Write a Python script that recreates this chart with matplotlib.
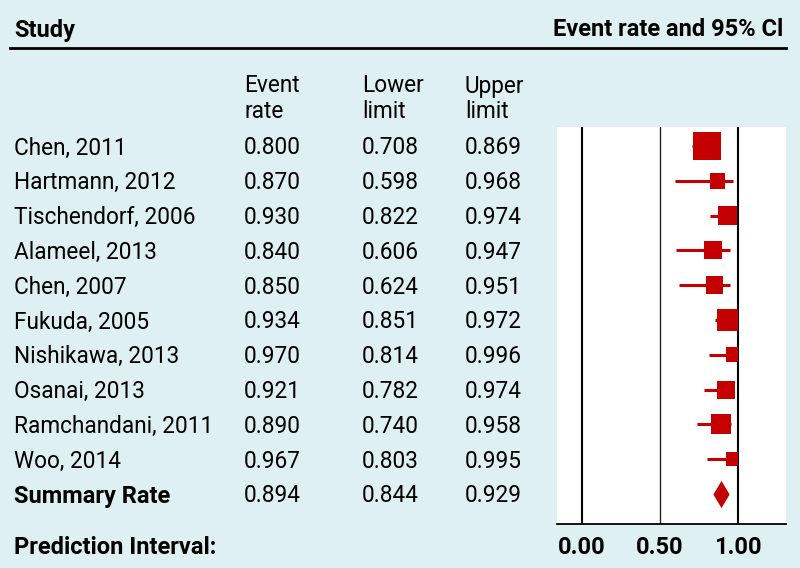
import matplotlib
matplotlib.use("Agg")
import matplotlib.pyplot as plt
from matplotlib.patches import Rectangle

plt.rcParams['font.family'] = ['Roboto', 'DejaVu Sans']

# data
studies = ["Chen, 2011", "Hartmann, 2012", "Tischendorf, 2006", "Alameel, 2013",
           "Chen, 2007", "Fukuda, 2005", "Nishikawa, 2013", "Osanai, 2013",
           "Ramchandani, 2011", "Woo, 2014"]
event_rate = [0.800, 0.870, 0.930, 0.840, 0.850, 0.934, 0.970, 0.921, 0.890, 0.967]
lower = [0.708, 0.598, 0.822, 0.606, 0.624, 0.851, 0.814, 0.782, 0.740, 0.803]
upper = [0.869, 0.968, 0.974, 0.947, 0.951, 0.972, 0.996, 0.974, 0.958, 0.995]
weights = [20.9, 6.6, 10.0, 9.0, 8.7, 13.4, 6.0, 9.0, 11.1, 5.4]

summary = ("Summary Rate", 0.894, 0.844, 0.929)
xticks = [0.0, 0.5, 1.0]
xtick_labels = ["0.00", "0.50", "1.00"]

bg = '#dff0f2'
red = '#c40000'
fs = 16.3
fsb = 17

fig = plt.figure(figsize=(8, 5.68), dpi=100, facecolor=bg)

# text layer in pixel coordinates
tx = fig.add_axes([0, 0, 1, 1])
tx.set_xlim(0, 800)
tx.set_ylim(568, 0)
tx.axis('off')

tx.text(14, 30, "Study", fontsize=fsb, fontweight='bold', va='center', ha='left')
tx.text(783, 30, "Event rate and 95% Cl", fontsize=fsb, fontweight='bold',
        va='center', ha='right')
tx.plot([10, 786], [48, 48], color='black', lw=2)

col_x = [244, 362, 465]
for x, head in zip(col_x, ["Event", "Lower", "Upper"]):
    tx.text(x, 86, head, fontsize=fs, va='center', ha='left')
for x, head in zip(col_x, ["rate", "limit", "limit"]):
    tx.text(x, 112, head, fontsize=fs, va='center', ha='left')

row_y0, row_dy = 148, 34.8
for i, name in enumerate(studies):
    y = row_y0 + i * row_dy
    tx.text(14, y, name, fontsize=fs, va='center', ha='left')
    for x, v in zip(col_x, [event_rate[i], lower[i], upper[i]]):
        tx.text(x, y, f"{v:.3f}", fontsize=fs, va='center', ha='left')

ys = row_y0 + len(studies) * row_dy
tx.text(14, ys, summary[0], fontsize=fsb, fontweight='bold', va='center', ha='left')
for x, v in zip(col_x, summary[1:]):
    tx.text(x, ys, f"{v:.3f}", fontsize=fs, va='center', ha='left')

tx.text(14, 547, "Prediction Interval:", fontsize=fsb, fontweight='bold',
        va='center', ha='left')

# forest panel
ax = fig.add_axes([557 / 800, 44 / 568, 229 / 800, 397 / 568])
ax.set_facecolor('white')
ax.set_xlim(-0.160, 1.308)
ax.set_ylim(10.86, -0.546)
for s in ['top', 'left', 'right']:
    ax.spines[s].set_visible(False)
ax.spines['bottom'].set_linewidth(1.3)
ax.set_yticks([])
ax.set_xticks(xticks)
ax.set_xticklabels(xtick_labels, fontsize=fsb, fontweight='bold')
ax.tick_params(axis='x', length=0, pad=9)

ax.axvline(0.0, color='black', lw=1.5)
ax.axvline(0.5, color='#222222', lw=1.0)
ax.axvline(1.0, color='black', lw=1.5)

rows = list(range(len(studies)))
ax.hlines(rows, lower, upper, color=red, lw=2.2)
sizes = [(6.02 * w ** 0.5 * 0.72) ** 2 for w in weights]
sq = ax.scatter(event_rate, rows, s=sizes, marker='s', color=red, linewidths=0, zorder=3)
clip = Rectangle((-1, -5), 2, 30, transform=ax.transData)
sq.set_clip_path(clip)

diamond = [(-0.3, 0), (0, 0.5), (0.3, 0), (0, -0.5)]
ax.plot([summary[1]], [len(studies)], marker=diamond, markersize=19.5,
        color=red, markeredgewidth=0, linestyle='none', zorder=3)

fig.savefig("out.png", dpi=100, facecolor=bg)
